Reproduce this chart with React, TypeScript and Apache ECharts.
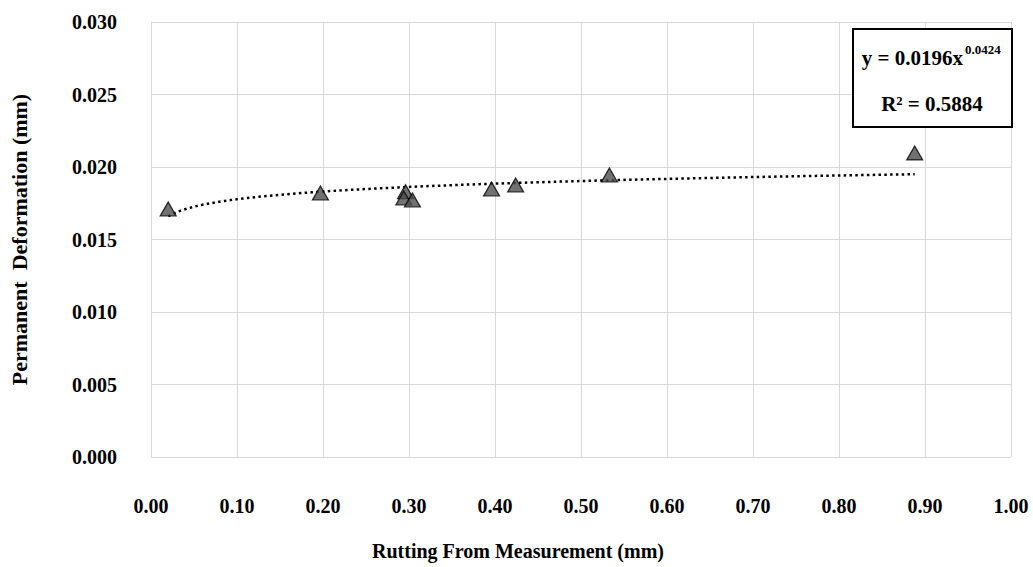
import React, { useEffect, useRef } from "react";
import * as echarts from "echarts";

const X_TICKS = ["0.00", "0.10", "0.20", "0.30", "0.40", "0.50", "0.60", "0.70", "0.80", "0.90", "1.00"];
const Y_TICKS = ["0.000", "0.005", "0.010", "0.015", "0.020", "0.025", "0.030"];

// measured points (rutting, permanent deformation)
const RUTTING = [0.02, 0.197, 0.296, 0.294, 0.304, 0.396, 0.424, 0.533, 0.888];
const DEFORMATION = [0.0171, 0.01821, 0.0183, 0.01786, 0.01772, 0.01848, 0.01876, 0.01945, 0.02097];

// power trendline shown on the chart: y = a * x^b
const TREND_A = 0.0196;
const TREND_B = 0.0424;
const EQUATION_TEXT = "y = 0.0196x";
const EQUATION_EXP = "0.0424";
const R2_TEXT = "R² = 0.5884";
const X_TITLE = "Rutting From Measurement (mm)";
const Y_TITLE = "Permanent  Deformation (mm)";

const FONT = "'Liberation Serif', 'Times New Roman', serif";

export default function App() {
  const ref = useRef<HTMLDivElement>(null);

  useEffect(() => {
    if (!ref.current) return;
    const chart = echarts.init(ref.current, undefined, { renderer: "svg" });

    const points = RUTTING.map((x, i) => [x, DEFORMATION[i]]);
    const xMin = Math.min(...RUTTING);
    const xMax = Math.max(...RUTTING);
    const trend: number[][] = [];
    const steps = 120;
    for (let i = 0; i <= steps; i++) {
      const x = xMin + ((xMax - xMin) * i) / steps;
      trend.push([x, TREND_A * Math.pow(x, TREND_B)]);
    }

    chart.setOption({
      animation: false,
      backgroundColor: "#ffffff",
      grid: { left: 151, right: 22, top: 22, bottom: 110, containLabel: false },
      xAxis: {
        type: "value",
        min: 0,
        max: 1,
        interval: 0.1,
        axisLine: { show: true, lineStyle: { color: "#d9d9d9", width: 1 } },
        axisTick: { show: false },
        splitLine: { show: true, lineStyle: { color: "#d9d9d9", width: 1 } },
        axisLabel: {
          margin: 39,
          fontFamily: FONT,
          fontWeight: "bold",
          fontSize: 20,
          color: "#000",
          formatter: (v: number) => X_TICKS[Math.round(v * 10)] ?? "",
        },
      },
      yAxis: {
        type: "value",
        min: 0,
        max: 0.03,
        interval: 0.005,
        name: Y_TITLE,
        nameLocation: "middle",
        nameGap: 121,
        nameTextStyle: { fontFamily: FONT, fontWeight: "bold", fontSize: 22, color: "#000" },
        axisLine: { show: true, lineStyle: { color: "#d9d9d9", width: 1 } },
        axisTick: { show: false },
        splitLine: { show: true, lineStyle: { color: "#d9d9d9", width: 1 } },
        axisLabel: {
          margin: 34,
          fontFamily: FONT,
          fontWeight: "bold",
          fontSize: 20,
          color: "#000",
          formatter: (v: number) => Y_TICKS[Math.round(v / 0.005)] ?? "",
        },
      },
      series: [
        {
          type: "line",
          data: trend,
          showSymbol: false,
          symbol: "none",
          smooth: false,
          lineStyle: { color: "#000", width: 2.5, type: [2.5, 3.3] },
          z: 2,
        },
        {
          type: "scatter",
          data: points,
          symbol: "triangle",
          symbolSize: [16, 14],
          itemStyle: { color: "#4d4d4d", borderColor: "#000", borderWidth: 1.2 },
          z: 3,
        },
      ],
      graphic: [
        {
          type: "text",
          x: 518,
          y: 551,
          style: {
            text: X_TITLE,
            fontFamily: FONT,
            fontWeight: "bold",
            fontSize: 20,
            fill: "#000",
            align: "center",
            verticalAlign: "middle",
          },
        },
        {
          type: "rect",
          shape: { x: 853, y: 29, width: 159, height: 98 },
          style: { fill: "#ffffff", stroke: "#000", lineWidth: 2 },
          z: 10,
        },
        {
          type: "text",
          x: 963,
          y: 58,
          style: {
            text: EQUATION_TEXT,
            fontFamily: FONT,
            fontWeight: "bold",
            fontSize: 21,
            fill: "#000",
            align: "right",
            verticalAlign: "middle",
          },
          z: 11,
        },
        {
          type: "text",
          x: 965,
          y: 49,
          style: {
            text: EQUATION_EXP,
            fontFamily: FONT,
            fontWeight: "bold",
            fontSize: 13,
            fill: "#000",
            align: "left",
            verticalAlign: "middle",
          },
          z: 11,
        },
        {
          type: "text",
          x: 932,
          y: 104,
          style: {
            text: R2_TEXT,
            fontFamily: FONT,
            fontWeight: "bold",
            fontSize: 21,
            fill: "#000",
            align: "center",
            verticalAlign: "middle",
          },
          z: 11,
        },
      ],
    });

    return () => chart.dispose();
  }, []);

  return (
    <div
      ref={ref}
      style={{ position: "fixed", left: 0, top: 0, width: 1033, height: 567, background: "#fff" }}
    />
  );
}
